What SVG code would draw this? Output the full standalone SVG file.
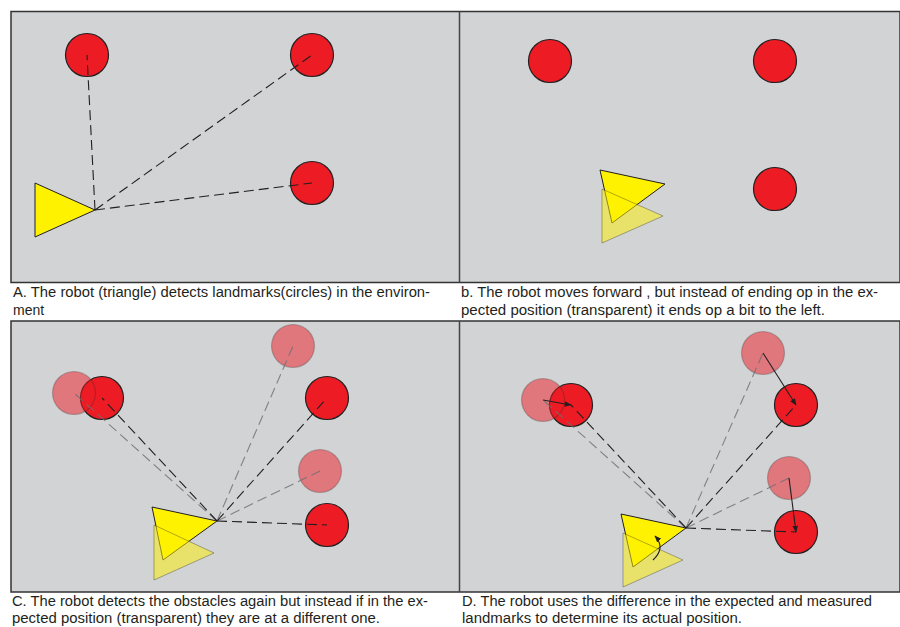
<svg xmlns="http://www.w3.org/2000/svg" width="900" height="627" viewBox="0 0 900 627">
<style>
.bg{fill:#d1d3d4;stroke:#333;stroke-width:1.5}
.div{stroke:#444;stroke-width:1.5}
.lm{fill:#ed1c24;stroke:#231f20;stroke-width:1.2}
.lmt{fill:#ed1c24;fill-opacity:0.5;stroke:#231f20;stroke-opacity:0.25;stroke-width:1.2}
.rb{fill:#fff200;stroke:#231f20;stroke-width:1}
.rbt{fill:#fff200;fill-opacity:0.5;stroke:#231f20;stroke-opacity:0.35;stroke-width:1}
.d{fill:none;stroke:#231f20;stroke-width:1.1;stroke-dasharray:10 5}
.dl{fill:none;stroke:#6d6e71;stroke-opacity:0.8;stroke-width:1.1;stroke-dasharray:10 5}
.ar{fill:none;stroke:#231f20;stroke-width:1.1;marker-end:url(#ah)}
.cap{font-family:"Liberation Sans",Arial,sans-serif;font-size:14px;fill:#231f20}
</style>
<defs>
<marker id="ah" viewBox="0 0 10 10" refX="9" refY="5" markerWidth="7" markerHeight="7" orient="auto" markerUnits="userSpaceOnUse">
<path d="M0,1 L10,5 L0,9 Z" fill="#231f20"/>
</marker>
</defs>
<rect width="900" height="627" fill="#fff"/>
<g id="frames">
<rect class="bg" x="11" y="11.5" width="889" height="271"/>
<line class="div" x1="459.5" y1="11.5" x2="459.5" y2="282.5"/>
<rect class="bg" x="11" y="321" width="889" height="271"/>
<line class="div" x1="459.5" y1="321" x2="459.5" y2="592"/>
</g>
<g id="panelA">
<circle id="a-lm1" class="lm" cx="87" cy="55" r="21.5"/>
<circle id="a-lm2" class="lm" cx="312" cy="55" r="21.5"/>
<circle id="a-lm3" class="lm" cx="312" cy="183" r="21.5"/>
<polygon id="a-robot" class="rb" points="35,183 95,210 35,237"/>
</g>
<g id="panelB">
<circle id="b-lm1" class="lm" cx="550" cy="61" r="21.5"/>
<circle id="b-lm2" class="lm" cx="775" cy="61" r="21.5"/>
<circle id="b-lm3" class="lm" cx="775" cy="189" r="21.5"/>
<polygon id="b-robot" class="rb" points="600,170 665,184 612,223"/>
<polygon id="b-robot-expected" class="rbt" points="602,189 663,216 602,243"/>
</g>
<g id="panelC">
<circle id="c-lm1" class="lm" cx="102" cy="398" r="21.5"/>
<circle id="c-lm2" class="lm" cx="327" cy="398" r="21.5"/>
<circle id="c-lm3" class="lm" cx="327" cy="525" r="21.5"/>
<circle id="c-lm1-exp" class="lmt" cx="74" cy="393" r="21.5"/>
<circle id="c-lm2-exp" class="lmt" cx="293" cy="346" r="21.5"/>
<circle id="c-lm3-exp" class="lmt" cx="320" cy="471" r="21.5"/>
<polygon id="c-robot" class="rb" points="152,507 217,521 163,560"/>
<polygon id="c-robot-expected" class="rbt" points="154,525 214,553 154,580"/>
</g>
<g id="panelD">
<circle id="d-lm1" class="lm" cx="571" cy="405" r="21.5"/>
<circle id="d-lm2" class="lm" cx="796" cy="405" r="21.5"/>
<circle id="d-lm3" class="lm" cx="796" cy="532" r="21.5"/>
<circle id="d-lm1-exp" class="lmt" cx="543" cy="400" r="21.5"/>
<circle id="d-lm2-exp" class="lmt" cx="763" cy="353" r="21.5"/>
<circle id="d-lm3-exp" class="lmt" cx="789" cy="478" r="21.5"/>
<polygon id="d-robot" class="rb" points="621,514 686,528 633,567"/>
<polygon id="d-robot-expected" class="rbt" points="623,533 683,560 623,587"/>
</g>
<g id="connectors">
<line class="d" x1="95" y1="210" x2="87" y2="55"/>
<line class="d" x1="95" y1="210" x2="312" y2="55"/>
<line class="d" x1="95" y1="210" x2="312" y2="183"/>
<line class="dl" x1="217" y1="521" x2="74" y2="393"/>
<line class="dl" x1="217" y1="521" x2="293" y2="346"/>
<line class="dl" x1="217" y1="521" x2="320" y2="471"/>
<line class="d" x1="217" y1="521" x2="102" y2="398"/>
<line class="d" x1="217" y1="521" x2="327" y2="398"/>
<line class="d" x1="217" y1="521" x2="327" y2="525"/>
<line class="dl" x1="686" y1="528" x2="543" y2="400"/>
<line class="dl" x1="686" y1="528" x2="763" y2="353"/>
<line class="dl" x1="686" y1="528" x2="789" y2="478"/>
<line class="d" x1="686" y1="528" x2="571" y2="405"/>
<line class="d" x1="686" y1="528" x2="796" y2="405"/>
<line class="d" x1="686" y1="528" x2="796" y2="532"/>
<line class="ar" x1="543" y1="400" x2="571" y2="405"/>
<line class="ar" x1="763" y1="353" x2="796" y2="405"/>
<line class="ar" x1="789" y1="478" x2="796" y2="532"/>
<path class="ar" d="M653,560 Q666,548 655,536"/>
</g>
<g id="captions">
<text class="cap" x="13" y="297" textLength="417" lengthAdjust="spacingAndGlyphs">A. The robot (triangle) detects landmarks(circles) in the environ-</text>
<text class="cap" x="13" y="315">ment</text>
<text class="cap" x="461" y="297" textLength="417" lengthAdjust="spacingAndGlyphs">b. The robot moves forward , but instead of ending op in the ex-</text>
<text class="cap" x="461" y="315" textLength="364" lengthAdjust="spacingAndGlyphs">pected position (transparent) it ends op a bit to the left.</text>
<text class="cap" x="12" y="606" textLength="416" lengthAdjust="spacingAndGlyphs">C. The robot detects the obstacles again but instead if in the ex-</text>
<text class="cap" x="12" y="623" textLength="368" lengthAdjust="spacingAndGlyphs">pected position (transparent) they are at a different one.</text>
<text class="cap" x="462" y="606" textLength="410" lengthAdjust="spacingAndGlyphs">D. The robot uses the difference in the expected and measured</text>
<text class="cap" x="462" y="623" textLength="280" lengthAdjust="spacingAndGlyphs">landmarks to determine its actual position.</text>
</g>
</svg>
